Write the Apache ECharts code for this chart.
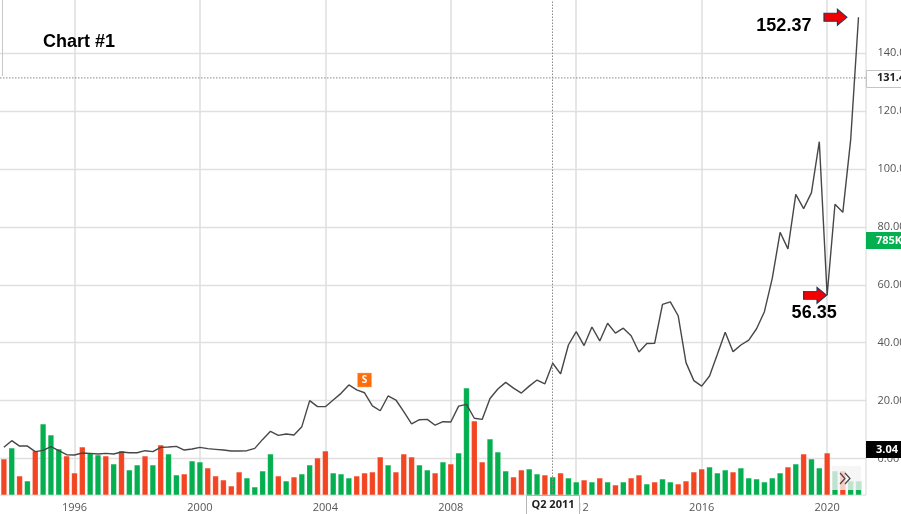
<!DOCTYPE html>
<html><head><meta charset="utf-8">
<style>html,body{margin:0;padding:0;background:#fff;overflow:hidden}#c{width:901px;height:514px}</style>
<script src="https://cdn.jsdelivr.net/npm/echarts@6/dist/echarts.min.js"></script>
</head><body><div id="c"></div>
<script>
const firstYear = 1993, firstQuarter = 4;
const price = [3.86,6.16,4.3,4.3,2.36,2.82,4.09,2.7,1.32,1.2,1.9,1.78,1.55,1.78,1.55,2.24,2.0,2.0,2.7,2.36,
3.86,3.97,4.2,2.93,3.28,3.86,3.4,3.17,2.93,2.59,2.59,2.7,3.5,6.6,9.4,8.0,8.46,8.1,
11,20.0,17.9,17.9,20.2,22.5,25.4,23.7,22.7,18.2,16.5,21.6,20.2,16.2,12.0,13.4,13.5,11.5,12.7,12.6,18.1,18.7,13.9,13.5,20.7,24.0,26.3,24.3,22.6,25.0,27.1,25.8,
32.9,29.2,39.2,43.8,39,45.4,40.6,46.7,43.3,45,42.4,36.8,39.7,39.8,53.2,54.1,49.3,33.1,26.9,25,28.5,
36,43.6,36.9,39.2,40.9,44.8,50.7,62.2,78.1,72.4,91.2,86.3,91.8,109.4,56.35,87.8,85,110,152.37];
const volume = [36,47,19,14,44,71,60,46,39,22,48,42,40,39,31,44,25,30,39,30,50,41,20,21,34,33,27,19,15,9,23,17,8,24,41,19,14,18,
21,30,37,44,22,21,17,19,22,23,38,30,23,41,38,30,25,22,33,31,42,107,74,33,56,43,24,18,25,26,21,20,18,22,17,13,15,13,
17,13,10,13,17,20,11,13,16,13,11,14,23,26,28,22,25,23,27,17,16,13,17,22,28,31,41,36,27,42,24,24,14,14];
// positions of the red volume bars, read per bar from the picture; all others are green
const redBars = [0,2,4,8,9,10,13,15,18,20,23,26,27,28,29,30,35,37,
 40,41,45,46,47,48,50,51,52,55,57,60,61,65,66,69,71,74,76,78,80,81,83,86,87,88,89,93,100,102,105,107];
const yTicks = {min:0,max:140,interval:20};
const crossPrice = 131.4, crossQuarter = "Q2 2011";
const lows = {high:152.37, low:56.35};
const green = "#04AF4F", red = "#F44522";
const cats = price.map((_, i) => {
  const q = firstQuarter - 1 + i;
  return "Q" + (q % 4 + 1) + " " + (firstYear + Math.floor(q / 4));
});
const fourYear = (i, v) => v.startsWith("Q1") && (+v.slice(3)) % 4 === 0;
const chart = echarts.init(document.getElementById("c"), null, {renderer:"canvas", width:901, height:514});
const ltxt = {fontFamily:"Liberation Sans",fontWeight:"bold",fontSize:18,color:"#000"};
chart.setOption({
  animation:false, backgroundColor:"#fff",
  title:{text:"Chart #1",left:38,top:28,textStyle:Object.assign({},ltxt)},
  grid:[
    {left:0,width:866,top:53,height:405.6,outerBoundsMode:"none"},
    {left:3.9,width:854.6,top:0,height:495,outerBoundsMode:"none"}
  ],
  xAxis:[
    {gridIndex:0,type:"value",min:0,max:1,show:false},
    {gridIndex:1,type:"category",data:cats,boundaryGap:false,
     axisLine:{show:false},axisTick:{show:false},
     splitLine:{show:true,interval:fourYear,lineStyle:{color:"#dedede",width:1.5}},
     axisLabel:{interval:fourYear,formatter:v=>v.slice(3),fontFamily:"Open Sans",fontSize:11,color:"#555",margin:7,hideOverlap:false}}
  ],
  yAxis:[
    {gridIndex:0,type:"value",position:"right",min:yTicks.min,max:yTicks.max,interval:yTicks.interval,
     axisLine:{show:false},axisTick:{show:false},
     splitLine:{show:true,lineStyle:{color:"#e0e0e0",width:1.3}},
     axisLabel:{margin:11.5,fontFamily:"Open Sans",fontSize:11,color:"#555",hideOverlap:false,
       formatter:v=>v.toFixed(2)}},
    {gridIndex:1,type:"value",min:-12.6,max:158.32,show:false},
    {gridIndex:1,type:"value",min:0,max:495,show:false}
  ],
  series:[
    {type:"line",xAxisIndex:0,yAxisIndex:0,data:[[0,crossPrice],[1,crossPrice]],symbol:"none",silent:true,z:3,
     lineStyle:{color:"#8a8a8a",width:1,type:[1.5,1.5]}},
    {type:"bar",xAxisIndex:1,yAxisIndex:2,data:volume,barWidth:5.8,clip:false,z:2,
     itemStyle:{color:p=>redBars.includes(p.dataIndex)?red:green,borderColor:"rgba(255,255,255,0.35)",borderWidth:0.4}},
    {type:"line",xAxisIndex:1,yAxisIndex:1,data:price,symbol:"none",z:4,clip:false,
     lineStyle:{color:"#474747",width:1.4},
     markLine:{silent:true,symbol:"none",label:{show:false},animation:false,
       lineStyle:{color:"#8a8a8a",width:1,type:[1.5,1.5]},
       data:[{xAxis:crossQuarter}]},
     markPoint:{silent:true,animation:false,data:[
       {coord:[cats[109],lows.high],value:lows.high,symbol:"path://M0,4 H14 V0 L24,8 L14,16 V12 H0 Z",symbolKeepAspect:false,symbolSize:[23,16],symbolOffset:[-23,0],
        itemStyle:{color:"#f00000",borderColor:"#1f3a5f",borderWidth:1},
        label:{show:true,position:"left",distance:12,offset:[0,9],...ltxt}},
       {coord:[cats[105],lows.low],value:lows.low,symbol:"path://M0,4 H14 V0 L24,8 L14,16 V12 H0 Z",symbolKeepAspect:false,symbolSize:[23,16],symbolOffset:[-12,0],
        itemStyle:{color:"#f00000",borderColor:"#1f3a5f",borderWidth:1},
        label:{show:true,position:"bottom",distance:0,offset:[-1,0],...ltxt}},
       {coord:[cats[46],27.1],value:"S",symbol:"rect",symbolSize:14,
        itemStyle:{color:"#FF6D0A",borderColor:"#ffb27a",borderWidth:0.5},
        label:{show:true,position:"inside",formatter:"S",color:"#fff",fontFamily:"Open Sans",fontWeight:"bold",fontSize:10}}
     ]}}
  ],
  graphic:[
    {type:"line",shape:{x1:0,y1:495,x2:866,y2:495},style:{stroke:"#d8d8d8",lineWidth:1},z:1},
    {type:"line",shape:{x1:866,y1:0,x2:866,y2:495},style:{stroke:"#d8d8d8",lineWidth:1},z:1},
    {type:"line",shape:{x1:2.5,y1:0,x2:2.5,y2:76},style:{stroke:"#c8c8c8",lineWidth:1},z:1},
    {type:"rect",shape:{x:832,y:466,width:29,height:24},style:{fill:"rgba(243,243,243,0.78)"},z:20},
    {type:"polyline",shape:{points:[[840,473],[845,478.5],[840,484]]},style:{stroke:"#444",lineWidth:1.2,fill:null},z:21},
    {type:"polyline",shape:{points:[[845,473],[850,478.5],[845,484]]},style:{stroke:"#444",lineWidth:1.2,fill:null},z:21},
    {type:"rect",shape:{x:866.5,y:70.5,width:40,height:17},style:{fill:"#fff",stroke:"#c4c4c4",lineWidth:1},z:20},
    {type:"text",x:877,y:78,style:{text:"131.40",fill:"#222",font:"bold 11px 'Open Sans'",verticalAlign:"middle"},z:21},
    {type:"rect",shape:{x:866,y:232,width:40,height:17},style:{fill:"#04AF4F"},z:20},
    {type:"text",x:876,y:240.5,style:{text:"785K",fill:"#fff",font:"bold 11px 'Open Sans'",verticalAlign:"middle"},z:21},
    {type:"rect",shape:{x:866,y:441,width:40,height:17},style:{fill:"#000"},z:20},
    {type:"text",x:876,y:449.5,style:{text:"3.04",fill:"#fff",font:"bold 11px 'Open Sans'",verticalAlign:"middle"},z:21},
    {type:"rect",shape:{x:526.5,y:495.5,width:53,height:22},style:{fill:"#fff",stroke:"#b5b5b5",lineWidth:1},z:20},
    {type:"text",x:553,y:505,style:{text:crossQuarter,fill:"#222",font:"bold 11px 'Open Sans'",align:"center",verticalAlign:"middle"},z:21}
  ]
});
</script></body></html>
